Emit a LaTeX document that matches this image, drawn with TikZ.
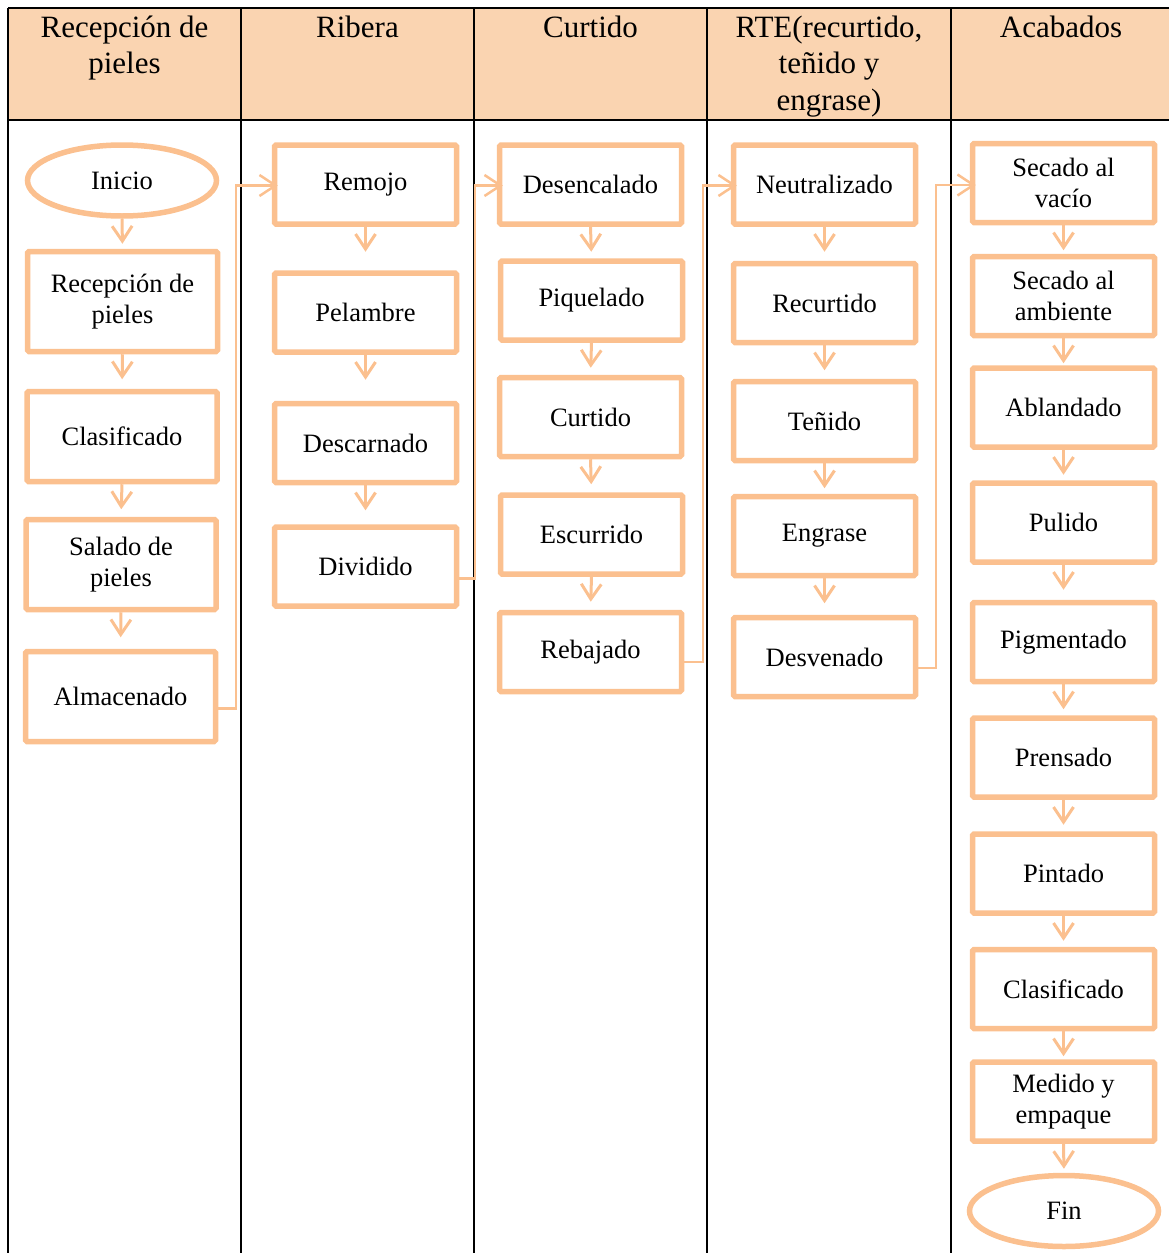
\documentclass[tikz,border=0pt]{standalone}
\usepackage{fontspec}
\setmainfont{Liberation Serif}
\usetikzlibrary{arrows.meta,calc,shapes.geometric}
\definecolor{hdr}{RGB}{250,212,177}
\definecolor{org}{RGB}{251,192,143}
\tikzset{
 proc/.style={draw=org, line width=5.5pt, rounded corners=1.5pt, minimum width=182pt, minimum height=79pt, align=center, font=\fontsize{26.5}{31}\selectfont, inner sep=0pt, fill=white},
 procA/.style={proc, minimum width=190pt, minimum height=90pt},
 term/.style={ellipse, draw=org, line width=5.5pt, minimum width=189pt, minimum height=71pt, font=\fontsize{26.5}{31}\selectfont, inner sep=0pt, fill=white},
 flow/.style={draw=org, line width=3pt, -{Straight Barb[length=15pt,width=20pt]}},
 link/.style={draw=org, line width=2.5pt, -{Straight Barb[length=16pt,width=21pt]}},
 gridline/.style={line width=2.3pt, black},
 hd/.style={font=\fontsize{31}{36.5}\selectfont, align=center, anchor=base, inner sep=0pt}
}
\begin{document}
\begin{tikzpicture}[x=1pt,y=-1pt]
\useasboundingbox (0,0) rectangle (1169,1253);
% header
\fill[hdr] (8,8) rectangle (1169,120);
\draw[gridline] (8,8) -- (1169,8);
\draw[gridline] (8,120) -- (1169,120);
\foreach \x in {8,241,474,707,951} \draw[gridline] (\x,8) -- (\x,1253);
\node[hd] (h1) at (124.5,73.5) {Recepción de\\pieles};
\node[hd] (h2) at (357.5,37) {Ribera};
\node[hd] (h3) at (590.5,37) {Curtido};
\node[hd] (h4) at (829,110) {RTE(recurtido,\\teñido y\\engrase)};
\node[hd] (h5) at (1061,37) {Acabados};

% column 1
\node[term] (ini) at (122,180.5) {Inicio};
\node[procA, minimum height=100pt] (rec) at (122.5,301.5) {Recepción de\\pieles};
\node[procA] (cla) at (122,436.5) {Clasificado};
\node[procA] (sal) at (121,564.5) {Salado de\\pieles};
\node[procA] (alm) at (120.5,696.5) {Almacenado};

% column 2
\node[proc] (rem) at (365.5,184.5) {Remojo};
\node[proc] (pel) at (365.5,312.5) {Pelambre};
\node[proc] (des) at (365.5,443) {Descarnado};
\node[proc] (div) at (365.5,566.5) {Dividido};

% column 3
\node[proc] (dsc) at (590.5,184.5) {Desencalado};
\node[proc] (piq) at (591.5,300.5) {Piquelado};
\node[proc] (cur) at (590.5,417) {Curtido};
\node[proc] (esc) at (591.5,534.5) {Escurrido};
\node[proc] (reb) at (590.5,652) {Rebajado};

% column 4
\node[proc] (neu) at (824.5,184.5) {Neutralizado};
\node[proc] (rcu) at (824.5,303) {Recurtido};
\node[proc] (ten) at (824.5,421) {Teñido};
\node[proc] (eng) at (824.5,536) {Engrase};
\node[proc] (dsv) at (824.5,657) {Desvenado};

% column 5
\node[proc] (svc) at (1063.5,183) {Secado al\\vacío};
\node[proc] (sam) at (1063.5,296) {Secado al\\ambiente};
\node[proc] (abl) at (1063.5,407.5) {Ablandado};
\node[proc] (pul) at (1063.5,522.5) {Pulido};
\node[proc] (pig) at (1063.5,642) {Pigmentado};
\node[proc] (pre) at (1063.5,757.5) {Prensado};
\node[proc] (pin) at (1063.5,873.5) {Pintado};
\node[proc] (cl2) at (1063.5,989) {Clasificado};
\node[proc] (med) at (1063.5,1101.5) {Medido y\\empaque};
\node[term] (fin) at (1064,1211) {Fin};

% vertical arrows
\foreach \a/\b in {ini/rec,rec/cla,cla/sal,sal/alm,
                   rem/pel,pel/des,des/div,
                   dsc/piq,piq/cur,cur/esc,esc/reb,
                   neu/rcu,rcu/ten,ten/eng,eng/dsv,
                   svc/sam,sam/abl,abl/pul,pul/pig,pig/pre,pre/pin,pin/cl2,cl2/med,med/fin}
  \draw[flow] (\a.south) -- ($(\a.south)!25pt!(\b.north)$);

% column links
\coordinate (j1) at (236,0);
\coordinate (j2) at (475,0);
\coordinate (j3) at (703,0);
\coordinate (j4) at (936,0);
\draw[link] ([yshift=-12pt]alm.east) -- ([yshift=-12pt]alm.east -| j1) -- ([yshift=-1pt]rem.west -| j1) -- ([xshift=6pt,yshift=-1pt]rem.west);
\draw[link] ([yshift=-12pt]div.east) -- ([yshift=-12pt]div.east -| j2) -- ([yshift=-1pt]dsc.west -| j2) -- ([xshift=6pt,yshift=-1pt]dsc.west);
\draw[link] ([yshift=-10pt]reb.east) -- ([yshift=-10pt]reb.east -| j3) -- ([yshift=-1pt]neu.west -| j3) -- ([xshift=6pt,yshift=-1pt]neu.west);
\draw[link] ([yshift=-11pt]dsv.east) -- ([yshift=-11pt]dsv.east -| j4) -- ([yshift=-2pt]svc.west -| j4) -- ([xshift=6pt,yshift=-2pt]svc.west);
\end{tikzpicture}
\end{document}
